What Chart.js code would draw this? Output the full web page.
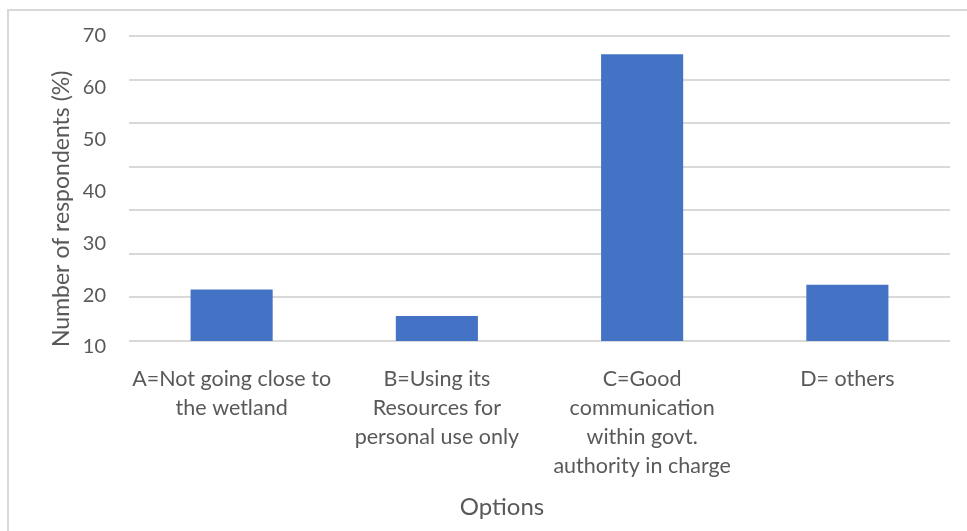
<!DOCTYPE html>
<html>
<head>
<meta charset="utf-8">
<title>Options</title>
<script src="https://cdn.jsdelivr.net/npm/chart.js@4/dist/chart.umd.min.js"></script>
<style>
  html, body { margin: 0; padding: 0; background: #ffffff; }
  .wrap { position: relative; width: 967px; height: 531px; overflow: hidden; }
  .frame {
    position: absolute; left: 7px; top: 9px; width: 980px; height: 540px;
    border-top: 2px solid #d9d9d9; border-left: 2px solid #d9d9d9;
  }
  #optionsChart { position: absolute; left: 0; top: 0; }
</style>
</head>
<body>
<div class="wrap">
  <div class="frame"></div>
  <canvas id="optionsChart" width="967" height="531"></canvas>
</div>
<script>
const categories = [
  ['A=Not going close to', 'the wetland'],
  ['B=Using its', 'Resources for', 'personal use only'],
  ['C=Good', 'communication', 'within govt.', 'authority in charge'],
  ['D= others'],
];
const respondents = [21.1, 16.0, 66.5, 22.0];
const yTickLabels = [10, 20, 30, 40, 50, 60, 70];
const gridValues = [0, 10, 20, 30, 40, 50, 60, 70];
const xTitle = 'Options';
const yTitle = 'Number of respondents (%)';

// the labels and the gridlines of the original don't line up:
// bars sit on the lowest gridline, which is a bit above the "10" label
const BAR_BASE = 11.16;
const GRID_MIN = -1.38;

const FONT = 'Lato, "Open Sans", sans-serif';
const TEXT = '#595959';

document.addEventListener('DOMContentLoaded', () => {
  initChart();
});

// the x title in the original is off centre, so draw it by hand
const xTitlePlugin = {
  id: 'xTitle',
  afterDraw(chart) {
    const { ctx } = chart;
    ctx.save();
    ctx.font = '24px ' + FONT;
    ctx.fillStyle = TEXT;
    ctx.textAlign = 'center';
    ctx.textBaseline = 'middle';
    ctx.fillText(xTitle, 502, 507);
    ctx.restore();
  },
};

function initChart() {
  if (typeof Chart === 'undefined') return;
  const ctx = document.getElementById('optionsChart');
  if (!ctx) return;

  new Chart(ctx, {
    type: 'bar',
    data: {
      labels: categories,
      datasets: [
        {
          label: yTitle,
          data: respondents,
          yAxisID: 'yl',
          base: BAR_BASE,
          backgroundColor: '#4472c4',
          borderWidth: 0,
          categoryPercentage: 1,
          barPercentage: 0.4,
        },
      ],
    },
    plugins: [xTitlePlugin],
    options: {
      responsive: false,
      animation: false,
      devicePixelRatio: 1,
      layout: { padding: { left: 0, top: 36, right: 17, bottom: 0 } },
      plugins: {
        legend: { display: false },
        tooltip: { enabled: false },
      },
      scales: {
        x: {
          grid: { display: false, drawTicks: false },
          border: { display: false },
          ticks: {
            color: TEXT,
            font: { family: FONT, size: 21.5, lineHeight: 1.36 },
            padding: 17,
            maxRotation: 0,
            autoSkip: false,
          },
          afterFit: (scale) => { scale.height = 184; },
        },
        // gridlines only
        y: {
          position: 'left',
          min: GRID_MIN,
          max: gridValues[gridValues.length - 1],
          afterBuildTicks: (scale) => { scale.ticks = gridValues.map((v) => ({ value: v })); },
          ticks: { display: false },
          grid: { color: '#d9d9d9', lineWidth: 2, drawTicks: false },
          border: { display: false },
          afterFit: (scale) => { scale.width = 0; },
        },
        // labelled axis used by the bars
        yl: {
          position: 'left',
          min: yTickLabels[0],
          max: yTickLabels[yTickLabels.length - 1],
          afterBuildTicks: (scale) => { scale.ticks = yTickLabels.map((v) => ({ value: v })); },
          grid: { display: false, drawTicks: false },
          border: { display: false },
          ticks: {
            color: TEXT,
            font: { family: FONT, size: 20 },
            padding: 23,
          },
          title: {
            display: true,
            text: yTitle,
            color: TEXT,
            align: 'start',
            font: { family: FONT, size: 23 },
            padding: { top: 48, bottom: 0 },
          },
          afterFit: (scale) => { scale.width = 129; },
        },
      },
    },
  });
}
</script>
</body>
</html>
